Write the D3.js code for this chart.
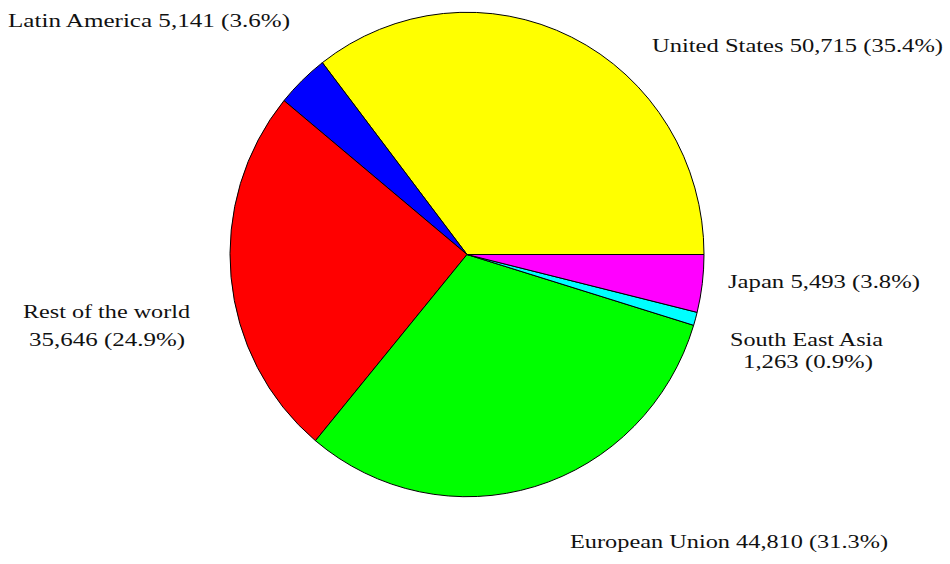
<!DOCTYPE html>
<html>
<head>
<meta charset="utf-8">
<script src="https://cdn.jsdelivr.net/npm/d3@7"></script>
<style>
  body { margin: 0; background: #fff; }
  svg { display: block; }
  text { font-family: "Liberation Serif", "DejaVu Serif", serif; fill: #111; }
</style>
</head>
<body>
<div id="chart"></div>
<script>
// data
const categories = ["United States", "Latin America", "Rest of the world", "European Union", "South East Asia", "Japan"];
const values = [50715, 5141, 35646, 44810, 1263, 5493];
const valueLabels = ["50,715", "5,141", "35,646", "44,810", "1,263", "5,493"];
const percentLabels = ["35.4%", "3.6%", "24.9%", "31.3%", "0.9%", "3.8%"];
const colors = ["#ffff00", "#0000ff", "#ff0000", "#00ff00", "#00ffff", "#ff00ff"];

// label layout: lines of text, each with x, baseline y and width
const labelLayout = [
    [{ x: 652, y: 52, w: 291, t: i => `${categories[i]} ${valueLabels[i]} (${percentLabels[i]})` }],
    [{ x: 8, y: 27, w: 282, t: i => `${categories[i]} ${valueLabels[i]} (${percentLabels[i]})` }],
    [{ x: 23, y: 318, w: 167, t: i => categories[i] },
     { x: 29, y: 346, w: 156, t: i => `${valueLabels[i]} (${percentLabels[i]})` }],
    [{ x: 570, y: 548, w: 318, t: i => `${categories[i]} ${valueLabels[i]} (${percentLabels[i]})` }],
    [{ x: 730, y: 346, w: 153, t: i => categories[i] },
     { x: 743, y: 368, w: 130, t: i => `${valueLabels[i]} (${percentLabels[i]})` }],
    [{ x: 728, y: 288, w: 192, t: i => `${categories[i]} ${valueLabels[i]} (${percentLabels[i]})` }]
];

const width = 950;
const height = 564;

const svg = d3.select("#chart").append("svg")
    .attr("width", width)
    .attr("height", height);

// pie starts at 3 o'clock and runs counterclockwise
const pie = d3.pie()
    .sort(null)
    .startAngle(Math.PI / 2)
    .endAngle(Math.PI / 2 - 2 * Math.PI);

const arc = d3.arc()
    .innerRadius(0)
    .outerRadius(237);

const g = svg.append("g")
    .attr("transform", "translate(467,254.5) scale(1,1.022)");

g.selectAll("path")
    .data(pie(values))
    .enter()
    .append("path")
    .attr("d", arc)
    .attr("fill", (d, i) => colors[i])
    .attr("stroke", "#000")
    .attr("stroke-width", 1)
    .attr("vector-effect", "non-scaling-stroke");

labelLayout.forEach((lines, i) => {
    lines.forEach(line => {
        svg.append("text")
            .attr("x", line.x)
            .attr("y", line.y)
            .attr("textLength", line.w)
            .attr("lengthAdjust", "spacingAndGlyphs")
            .style("font-size", "18px")
            .text(line.t(i));
    });
});
</script>
</body>
</html>
